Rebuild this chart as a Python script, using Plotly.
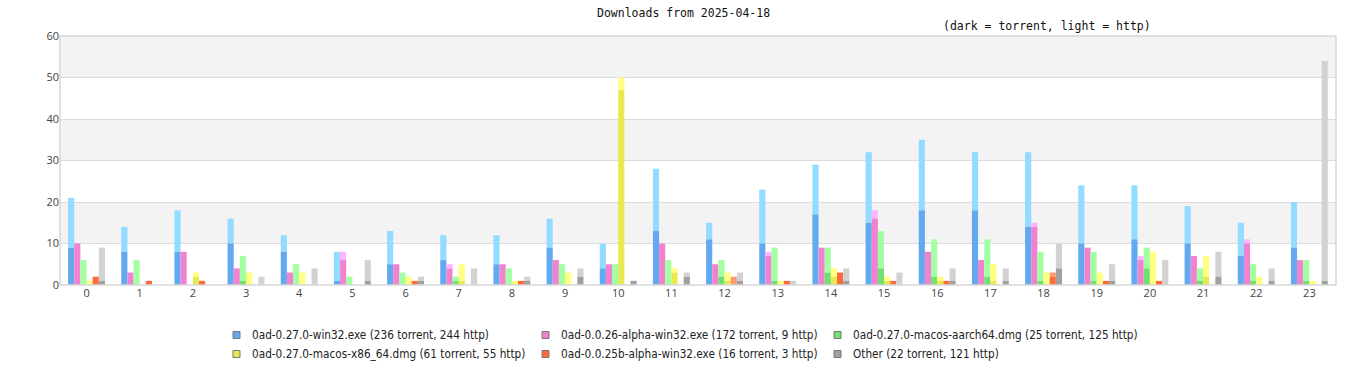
import plotly.graph_objects as go

hours = list(range(24))
hour_labels = [str(h) for h in hours]

series_names = [
    "0ad-0.27.0-win32.exe (236 torrent, 244 http)",
    "0ad-0.0.26-alpha-win32.exe (172 torrent, 9 http)",
    "0ad-0.27.0-macos-aarch64.dmg (25 torrent, 125 http)",
    "0ad-0.27.0-macos-x86_64.dmg (61 torrent, 55 http)",
    "0ad-0.0.25b-alpha-win32.exe (16 torrent, 3 http)",
    "Other (22 torrent, 121 http)",
]

win32_torrent = [9, 8, 8, 10, 8, 1, 5, 6, 5, 9, 4, 13, 11, 10, 17, 15, 18, 18, 14, 10, 11, 10, 7, 9]
win32_http = [12, 6, 10, 6, 4, 7, 8, 6, 7, 7, 6, 15, 4, 13, 12, 17, 17, 14, 18, 14, 13, 9, 8, 11]

a26_torrent = [10, 3, 8, 4, 3, 6, 5, 4, 5, 6, 5, 10, 5, 7, 9, 16, 8, 6, 14, 9, 6, 7, 10, 6]
a26_http = [0, 0, 0, 0, 0, 2, 0, 1, 0, 0, 0, 0, 0, 1, 0, 2, 0, 0, 1, 0, 1, 0, 1, 0]

aarch_torrent = [0, 0, 0, 1, 0, 0, 0, 1, 0, 0, 0, 0, 2, 1, 3, 4, 2, 2, 1, 1, 4, 1, 1, 1]
aarch_http = [6, 6, 0, 6, 5, 2, 3, 1, 4, 5, 5, 6, 4, 8, 6, 9, 9, 9, 7, 7, 5, 3, 4, 5]

x86_torrent = [0, 0, 2, 0, 0, 0, 0, 1, 0, 0, 47, 3, 1, 0, 2, 1, 1, 1, 0, 0, 0, 2, 0, 0]
x86_http = [1, 0, 1, 3, 3, 0, 2, 4, 1, 3, 3, 1, 2, 1, 2, 1, 1, 4, 3, 3, 8, 5, 2, 1]

a25_torrent = [2, 1, 1, 0, 0, 0, 1, 0, 1, 0, 0, 0, 0, 1, 3, 1, 1, 0, 2, 1, 1, 0, 0, 0]
a25_http = [0, 0, 0, 0, 0, 0, 0, 0, 0, 0, 0, 0, 2, 0, 0, 0, 0, 0, 1, 0, 0, 0, 0, 0]

other_torrent = [1, 0, 0, 0, 0, 1, 1, 0, 1, 2, 1, 2, 1, 0, 1, 0, 1, 1, 4, 1, 0, 2, 1, 1]
other_http = [8, 0, 0, 2, 4, 5, 1, 4, 1, 2, 0, 1, 2, 1, 3, 3, 3, 3, 6, 4, 6, 6, 3, 53]

torrent_series = [win32_torrent, a26_torrent, aarch_torrent, x86_torrent, a25_torrent, other_torrent]
http_series = [win32_http, a26_http, aarch_http, x86_http, a25_http, other_http]

dark_colors = ["#62a9f0", "#f082d0", "#70e070", "#e8e850", "#ff6a3a", "#a0a0a0"]
light_colors = ["#92dcff", "#ffb2ff", "#a2ffa2", "#ffff80", "#ff9a70", "#d2d2d2"]

BAR_W = 0.1157
START = -0.348

fig = go.Figure()
for i in range(6):
    off = START + i * BAR_W
    fig.add_trace(go.Bar(
        x=hours, y=http_series[i], base=torrent_series[i],
        width=BAR_W, offset=off, marker=dict(color=light_colors[i], line=dict(width=0)),
        showlegend=False, hoverinfo="skip"))
    fig.add_trace(go.Bar(
        x=hours, y=torrent_series[i],
        width=BAR_W, offset=off, marker=dict(color=dark_colors[i], line=dict(width=0)),
        showlegend=False, hoverinfo="skip"))

W, H = 1366, 380
L, R, T, B = 60, 30, 36, 95
PW = W - L - R
PH = H - T - B

def px(xp):
    return (xp - L) / PW

def py(yp):
    return (H - B - yp) / PH

shapes = []
for lo in (10, 30, 50):
    shapes.append(dict(type="rect", xref="paper", yref="y", x0=0, x1=1, y0=lo, y1=lo + 10,
                       fillcolor="#f3f3f3", line=dict(width=0), layer="below"))
shapes.append(dict(type="rect", xref="paper", yref="paper", x0=0, x1=1, y0=0, y1=1,
                   line=dict(color="#d8d8d8", width=1.5), fillcolor="rgba(0,0,0,0)", layer="above"))

annotations = [
    dict(text="Downloads from 2025-04-18", xref="paper", yref="paper", x=px(683), y=py(13),
         showarrow=False, xanchor="center", yanchor="middle",
         font=dict(family="DejaVu Sans Mono", size=11.5, color="#111")),
    dict(text="(dark = torrent, light = http)", xref="paper", yref="paper", x=px(1047), y=py(26),
         showarrow=False, xanchor="center", yanchor="middle",
         font=dict(family="DejaVu Sans Mono", size=11.5, color="#111")),
]

leg_cols = [250, 559, 851]
leg_rows = [335, 354]
for i, name in enumerate(series_names):
    cx = leg_cols[i % 3]
    ry = leg_rows[i // 3]
    annotations.append(dict(text=name, xref="paper", yref="paper", x=px(cx), y=py(ry),
                            showarrow=False, xanchor="left", yanchor="middle",
                            font=dict(family="DejaVu Sans Condensed, Liberation Sans Narrow, sans-serif",
                                      size=11.7, color="#222")))
    shapes.append(dict(type="rect", xref="paper", yref="paper",
                       x0=px(cx - 17), x1=px(cx - 10), y0=py(ry + 3.5), y1=py(ry - 3.5),
                       fillcolor=dark_colors[i], line=dict(color="#777", width=1)))

fig.update_layout(
    width=W, height=H,
    margin=dict(l=L, r=R, t=T, b=B),
    barmode="overlay",
    plot_bgcolor="white", paper_bgcolor="white",
    shapes=shapes, annotations=annotations,
    showlegend=False,
    font=dict(family="Open Sans, DejaVu Sans, sans-serif", size=11, color="#444"),
    xaxis=dict(range=[-0.5, 23.5], tickmode="array", tickvals=hours, ticktext=hour_labels,
               showgrid=False, zeroline=False, showline=False, ticks="", ticklen=0,
               tickfont=dict(size=11, color="#444")),
    yaxis=dict(range=[0, 60], dtick=10, showgrid=True, gridcolor="#dcdcdc", gridwidth=1,
               zeroline=False, showline=False, ticks="", tickfont=dict(size=11, color="#444")),
)

fig.write_html("out.html", config={"displayModeBar": False},
               post_script="document.body.style.margin='0';document.body.style.padding='0';")
